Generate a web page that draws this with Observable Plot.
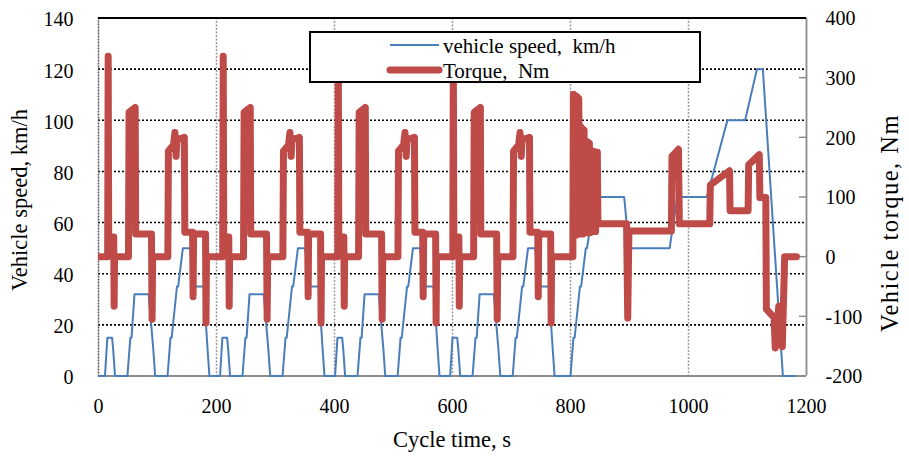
<!DOCTYPE html>
<html>
<head>
<meta charset="utf-8">
<script src="https://cdn.jsdelivr.net/npm/d3@7"></script>
<script src="https://cdn.jsdelivr.net/npm/@observablehq/plot@0.6"></script>
<style>
  html, body { margin: 0; padding: 0; background: #fff; }
  svg { display: block; }
  svg text, svg tspan { font-family: "Liberation Serif", "Times New Roman", serif !important; }
</style>
</head>
<body>
<div id="chart"></div>
<script>
// ---------- data ----------
const xTicks = [0, 200, 400, 600, 800, 1000, 1200];
const speedTicks = [0, 20, 40, 60, 80, 100, 120, 140];
const torqueTicks = [-200, -100, 0, 100, 200, 300, 400];

// vehicle speed, km/h (four urban cycles + extra-urban cycle)
const speedTime = [
  0, 11, 15, 23, 25, 28, 49, 54, 56, 61, 85, 93, 96, 117, 122, 124, 133, 135, 143, 155, 163, 176, 178, 185, 188,
  195, 206, 210, 218, 220, 223, 244, 249, 251, 256, 280, 288, 291, 312, 317, 319, 328, 330, 338, 350, 358, 371, 373, 380, 383,
  390, 401, 405, 413, 415, 418, 439, 444, 446, 451, 475, 483, 486, 507, 512, 514, 523, 525, 533, 545, 553, 566, 568, 575, 578,
  585, 596, 600, 608, 610, 613, 634, 639, 641, 646, 670, 678, 681, 702, 707, 709, 718, 720, 728, 740, 748, 761, 763, 770, 773,
  780, 800, 805, 807, 816, 818, 826, 828, 841, 891, 899, 968, 981, 1031, 1066, 1096, 1116, 1126, 1160, 1180
];
const speedKmh = [
  0, 0, 15, 15, 10, 0, 0, 15, 15, 32, 32, 10, 0, 0, 15, 15, 35, 35, 50, 50, 35, 35, 35, 10, 0,
  0, 0, 15, 15, 10, 0, 0, 15, 15, 32, 32, 10, 0, 0, 15, 15, 35, 35, 50, 50, 35, 35, 35, 10, 0,
  0, 0, 15, 15, 10, 0, 0, 15, 15, 32, 32, 10, 0, 0, 15, 15, 35, 35, 50, 50, 35, 35, 35, 10, 0,
  0, 0, 15, 15, 10, 0, 0, 15, 15, 32, 32, 10, 0, 0, 15, 15, 35, 35, 50, 50, 35, 35, 35, 10, 0,
  0, 0, 15, 15, 35, 35, 50, 50, 70, 70, 50, 50, 70, 70, 100, 100, 120, 120, 0, 0
];

// torque, Nm — urban part
const torqueTimeUrban = [
  0, 15.5, 16.4, 17.3, 25.8, 26.5, 27.2, 50.8, 51.8, 62.2, 63, 89.8, 90.8, 91.8, 117.5, 118.5, 127, 129.5, 131.5, 133, 145.5, 146.3, 159.5, 160.3, 161.2, 181.4, 182.2, 183,
  195, 210.5, 211.4, 212.3, 220.8, 221.5, 222.2, 245.8, 246.8, 257.2, 258, 284.8, 285.8, 286.8, 312.5, 313.5, 322, 324.5, 326.5, 328, 340.5, 341.3, 354.5, 355.3, 356.2, 376.4, 377.2, 378,
  390, 405.5, 406.4, 407.3, 415.8, 416.5, 417.2, 440.8, 441.8, 452.2, 453, 479.8, 480.8, 481.8, 507.5, 508.5, 517, 519.5, 521.5, 523, 535.5, 536.3, 549.5, 550.3, 551.2, 571.4, 572.2, 573,
  585, 600.5, 601.4, 602.3, 610.8, 611.5, 612.2, 635.8, 636.8, 647.2, 648, 674.8, 675.8, 676.8, 702.5, 703.5, 712, 714.5, 716.5, 718, 730.5, 731.3, 744.5, 745.3, 746.2, 766.4, 767.2, 768
];
const torqueNmUrban = [
  0, 0, 336, 33, 33, -83, 0, 0, 242, 250, 38, 38, -105, 0, 0, 177, 187, 208, 168, 196, 200, 41, 41, -67, 38, 38, -111, 0,
  0, 0, 336, 33, 33, -83, 0, 0, 242, 250, 38, 38, -105, 0, 0, 177, 187, 208, 168, 196, 200, 41, 41, -67, 38, 38, -111, 0,
  0, 0, 336, 33, 33, -83, 0, 0, 242, 250, 38, 38, -105, 0, 0, 177, 187, 208, 168, 196, 200, 41, 41, -67, 38, 38, -111, 0,
  0, 0, 336, 33, 33, -83, 0, 0, 242, 250, 38, 38, -105, 0, 0, 177, 187, 208, 168, 196, 200, 41, 41, -67, 38, 38, -111, 0
];
// torque, Nm — extra-urban part
const torqueTimeExtra = [
  780, 804, 805, 806.5, 808, 809.5, 811, 812.5, 814, 815.5, 817, 818.5, 820, 821.5, 823, 824.5, 826, 827.5, 829, 830.5,
  832, 833.5, 835, 836.5, 838, 839.5, 841, 842.5, 844, 845.5, 846.5, 895, 897, 899, 971, 972, 983, 984.5, 1036, 1037,
  1069.5, 1070.5, 1101, 1102, 1120, 1121, 1131, 1132, 1145, 1147, 1153, 1159, 1163, 1183
];
const torqueNmExtra = [
  0, 0, 272, 36, 270, 36, 268, 38, 265, 38, 218, 38, 215, 38, 212, 40, 194, 40, 192, 40,
  190, 40, 178, 42, 177, 42, 176, 42, 175, 175, 55, 55, -103, 43, 43, 168, 180, 55, 55, 120,
  144, 77, 77, 154, 171, 99, 99, -88, -102, -153, -83, -151, 0, 0
];

const legendLabels = ["vehicle speed,  km/h", "Torque,  Nm"];
const xTitle = "Cycle time, s";
const yTitleLeft = "Vehicle speed, km/h";
const yTitleRight = "Vehicle torque, Nm";

// ---------- build ----------
const blue = "#4A7EBB", red = "#BE4B48";
const font = "'Liberation Serif', 'Times New Roman', serif";
const speedRows = speedTime.map((t, i) => ({t, v: speedKmh[i]}));
const torqueRows = torqueTimeUrban.map((t, i) => ({t, nm: torqueNmUrban[i]}))
  .concat(torqueTimeExtra.map((t, i) => ({t, nm: torqueNmExtra[i]})));

const sMin = speedTicks[0], sMax = speedTicks[speedTicks.length - 1];
const tMin = torqueTicks[0], tMax = torqueTicks[torqueTicks.length - 1];
const toY = nm => sMin + (nm - tMin) * (sMax - sMin) / (tMax - tMin);
const fromY = y => Math.round(tMin + (y - sMin) * (tMax - tMin) / (sMax - sMin));

const W = 909, H = 457, mL = 98, mR = 103, mT = 17.5, mB = 81.5;
const innerW = W - mL - mR;

const chart = Plot.plot({
  width: W, height: H,
  marginLeft: mL, marginRight: mR, marginTop: mT, marginBottom: mB,
  style: {fontFamily: font, fontSize: "20px", color: "#000", background: "#fff", overflow: "visible"},
  x: {domain: [xTicks[0], xTicks[xTicks.length - 1]]},
  y: {domain: [sMin, sMax]},
  marks: [
    Plot.ruleX(xTicks.slice(1, -1), {stroke: "#9a9a9a", strokeWidth: 1.5, strokeDasharray: "2,1.5"}),
    Plot.ruleY(speedTicks.slice(1, -1), {stroke: "#000", strokeWidth: 1.6, strokeDasharray: "2,2"}),
    Plot.ruleX([xTicks[0]], {stroke: "#555", strokeWidth: 1.5, strokeDasharray: "2,1"}),
    Plot.ruleX([xTicks[xTicks.length - 1]], {stroke: "#8c8c8c", strokeWidth: 1.8}),
    Plot.ruleY([sMin], {stroke: "#8c8c8c", strokeWidth: 2}),
    Plot.tickY(torqueTicks, {y: d => toY(d), insetLeft: innerW - 7, stroke: "#8c8c8c", strokeWidth: 1.5}),
    Plot.line(speedRows, {x: "t", y: "v", stroke: blue, strokeWidth: 2, strokeLinejoin: "round"}),
    Plot.line(torqueRows, {x: "t", y: d => toY(d.nm), stroke: red, strokeWidth: 7, strokeLinejoin: "round", strokeLinecap: "round", clip: true}),
    Plot.ruleY([sMax], {stroke: "#000", strokeWidth: 2}),
    Plot.axisX(xTicks, {tickSize: 0, tickPadding: 23, label: null, fontSize: 20, tickFormat: d => String(d)}),
    Plot.axisY(speedTicks, {tickSize: 0, tickPadding: 25, label: null, fontSize: 20, dy: 2, tickFormat: d => String(d)}),
    Plot.axisY(torqueTicks.map(toY), {anchor: "right", tickSize: 0, tickPadding: 19, label: null, fontSize: 20, dy: 1, tickFormat: y => String(fromY(y))})
  ]
});

document.getElementById("chart").appendChild(chart);

// ---------- titles & legend ----------
const svg = d3.select(chart);

svg.append("text").attr("x", (mL + W - mR) / 2).attr("y", 447)
  .attr("text-anchor", "middle").attr("font-size", 22.5).text(xTitle);
svg.append("text").attr("transform", "translate(27,200) rotate(-90)")
  .attr("text-anchor", "middle").attr("font-size", 22.5).text(yTitleLeft);
svg.append("text").attr("transform", "translate(898,223) rotate(-90)")
  .attr("text-anchor", "middle").attr("font-size", 24.5)
  .attr("letter-spacing", 1.5).text(yTitleRight);

const lg = svg.append("g");
lg.append("rect").attr("x", 310).attr("y", 32).attr("width", 390).attr("height", 50)
  .attr("fill", "#fff").attr("stroke", "#000").attr("stroke-width", 2);
const legendStyles = [{c: blue, w: 2, cap: "butt"}, {c: red, w: 7, cap: "round"}];
legendLabels.forEach((lab, i) => {
  const cy = 45 + i * 25;
  lg.append("line").attr("x1", 390).attr("x2", 439).attr("y1", cy).attr("y2", cy)
    .attr("stroke", legendStyles[i].c).attr("stroke-width", legendStyles[i].w).attr("stroke-linecap", legendStyles[i].cap);
  lg.append("text").attr("x", 443).attr("y", cy + 7.5).attr("text-anchor", "start")
    .attr("font-size", 21).style("white-space", "pre")
    .text(lab);
});
</script>
</body>
</html>
